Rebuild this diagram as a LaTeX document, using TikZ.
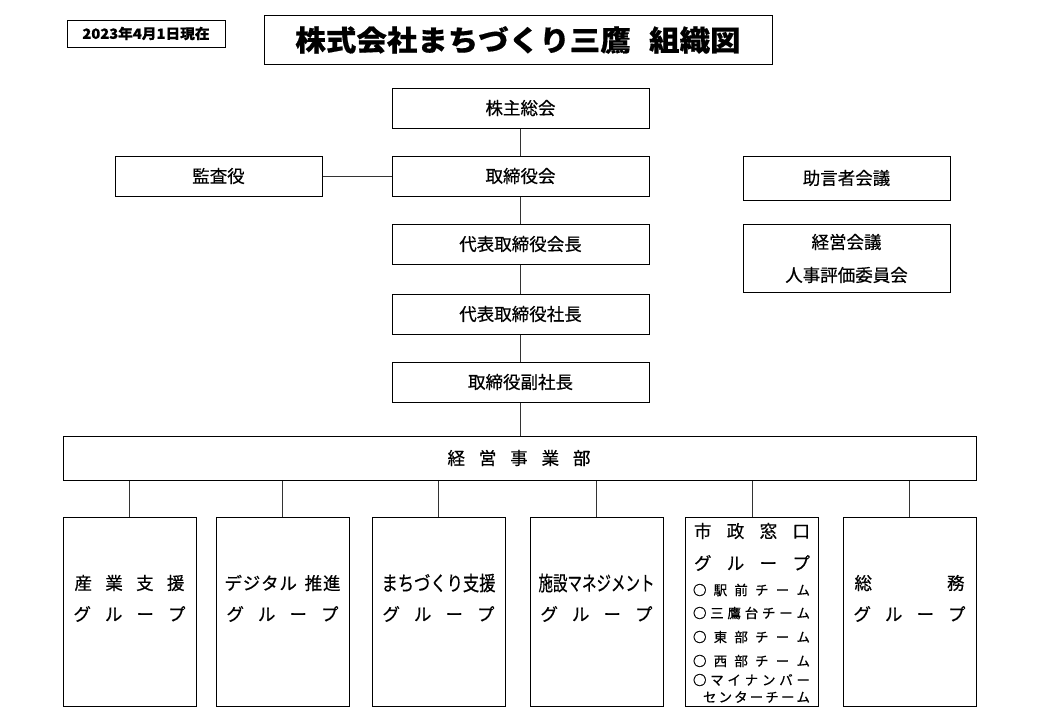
\documentclass[tikz,border=0pt]{standalone}
\usepackage{fontspec}
\usepackage{graphicx}
\setmainfont{Noto Sans CJK JP}[FakeBold=0.5]
\newcommand\myfs[1]{\fontsize{#1}{#1}\selectfont}
\newcommand\spr[2]{\makebox[#1pt][s]{#2}}
\tikzset{
  box/.style={draw=black, line width=1pt, inner sep=0pt, fill=white},
  txt/.style={inner sep=0pt, font=\myfs{17.5}},
  small/.style={inner sep=0pt, font=\myfs{13.5}},
  conn/.style={draw=black!80, line width=0.9pt},
}
\begin{document}
\begin{tikzpicture}[x=1pt,y=-1pt]
\useasboundingbox[fill=white] (0,0) rectangle (1040,720);
% header
\node[box, minimum width=158, minimum height=27] (date) at (146,33.5) {};
\node[inner sep=0pt, font=\myfs{14}\bfseries] (datet) at (146,33.5) {\scalebox{1.05}[1]{2023年4月1日現在}};
\node[box, minimum width=508, minimum height=49] (title) at (518,39.5) {};
\node[inner sep=0pt, font=\myfs{28.5}\bfseries] (titlet) at (518,40) {\scalebox{1.07}[1]{株式会社まちづくり三鷹\hspace{0.6em}組織図}};
% central column
\node[box, minimum width=257, minimum height=40, font=\myfs{17.5}] (kabu) at (520.5,108) {株主総会};
\node[box, minimum width=257, minimum height=40, font=\myfs{17.5}] (tori) at (520.5,176) {取締役会};
\node[box, minimum width=207, minimum height=40, font=\myfs{17.5}] (kansa) at (218.5,176) {監査役};
\node[box, minimum width=257, minimum height=40, font=\myfs{17.5}] (kaicho) at (520.5,244) {代表取締役会長};
\node[box, minimum width=257, minimum height=40, font=\myfs{17.5}] (shacho) at (520.5,314) {代表取締役社長};
\node[box, minimum width=257, minimum height=40, font=\myfs{17.5}] (fuku) at (520.5,382) {取締役副社長};
% right side
\node[box, minimum width=207, minimum height=44, font=\myfs{17.5}] (jogen) at (846.5,178) {助言者会議};
\node[box, minimum width=207, minimum height=68] (keikai) at (846.5,258) {};
\node[txt] (keikai1) at (846.5,242) {経営会議};
\node[txt] (keikai2) at (846.5,275) {人事評価委員会};
% department
\node[box, minimum width=913, minimum height=44] (keiei) at (519.5,458) {};
\node[txt] (keieit) at (519,458) {\spr{143}{経\hfill 営\hfill 事\hfill 業\hfill 部}};
% groups
\foreach \n/\cx in {g1/129.5,g2/282.5,g3/438.5,g4/596.5,g5/752,g6/909.5}{
  \node[box, minimum width=133, minimum height=189] (\n) at (\cx,611.5) {};
}
\node[txt] (g1a) at (129.5,583) {\spr{110}{産\hfill 業\hfill 支\hfill 援}};
\node[txt] (g1b) at (129.5,614) {\spr{112}{グ\hfill ル\hfill ー\hfill プ}};
\node[txt] (g2a) at (282.5,583) {\spr{116}{デ\hfill ジ\hfill タ\hfill ル\hfill\hspace{3pt} 推\hfill 進}};
\node[txt] (g2b) at (282.5,614) {\spr{112}{グ\hfill ル\hfill ー\hfill プ}};
\node[txt] (g3a) at (438.5,583) {\resizebox{114pt}{17pt}{まちづくり支援}};
\node[txt] (g3b) at (438.5,614) {\spr{112}{グ\hfill ル\hfill ー\hfill プ}};
\node[txt] (g4a) at (596.5,583) {\resizebox{116pt}{17pt}{施設マネジメント}};
\node[txt] (g4b) at (596.5,614) {\spr{112}{グ\hfill ル\hfill ー\hfill プ}};
\node[txt] (g6a) at (909.5,583) {\spr{110}{総\hfill 務}};
\node[txt] (g6b) at (909.5,614) {\spr{112}{グ\hfill ル\hfill ー\hfill プ}};
% g5 content
\node[txt] (g5a) at (752,531) {\spr{116}{市\hfill 政\hfill 窓\hfill 口}};
\node[txt] (g5b) at (752,563) {\spr{116}{グ\hfill ル\hfill ー\hfill プ}};
\node[small] (g5c) at (751.5,590) {\spr{117}{○\hfill 駅\hfill 前\hfill チ\hfill ー\hfill ム}};
\node[small] (g5d) at (751.5,613) {\spr{117}{○\hfill 三\hfill 鷹\hfill 台\hfill チ\hfill ー\hfill ム}};
\node[small] (g5e) at (751.5,637) {\spr{117}{○\hfill 東\hfill 部\hfill チ\hfill ー\hfill ム}};
\node[small] (g5f) at (751.5,661) {\spr{117}{○\hfill 西\hfill 部\hfill チ\hfill ー\hfill ム}};
\node[small] (g5g) at (751.5,680) {\spr{117}{○\hfill マ\hfill イ\hfill ナ\hfill ン\hfill バ\hfill ー}};
\node[small] (g5h) at (756.5,697) {\spr{107}{セ\hfill ン\hfill タ\hfill ー\hfill チ\hfill ー\hfill ム}};
% connectors
\draw[conn] (kabu.south) -- (tori.north);
\draw[conn] (kansa.east) -- (tori.west);
\draw[conn] (tori.south) -- (kaicho.north);
\draw[conn] (kaicho.south) -- (shacho.north);
\draw[conn] (shacho.south) -- (fuku.north);
\draw[conn] (fuku.south) -- (fuku.south |- keiei.north);
\foreach \n in {g1,g2,g3,g4,g5,g6}{
  \draw[conn] (\n.north) -- (\n.north |- keiei.south);
}
\end{tikzpicture}
\end{document}
